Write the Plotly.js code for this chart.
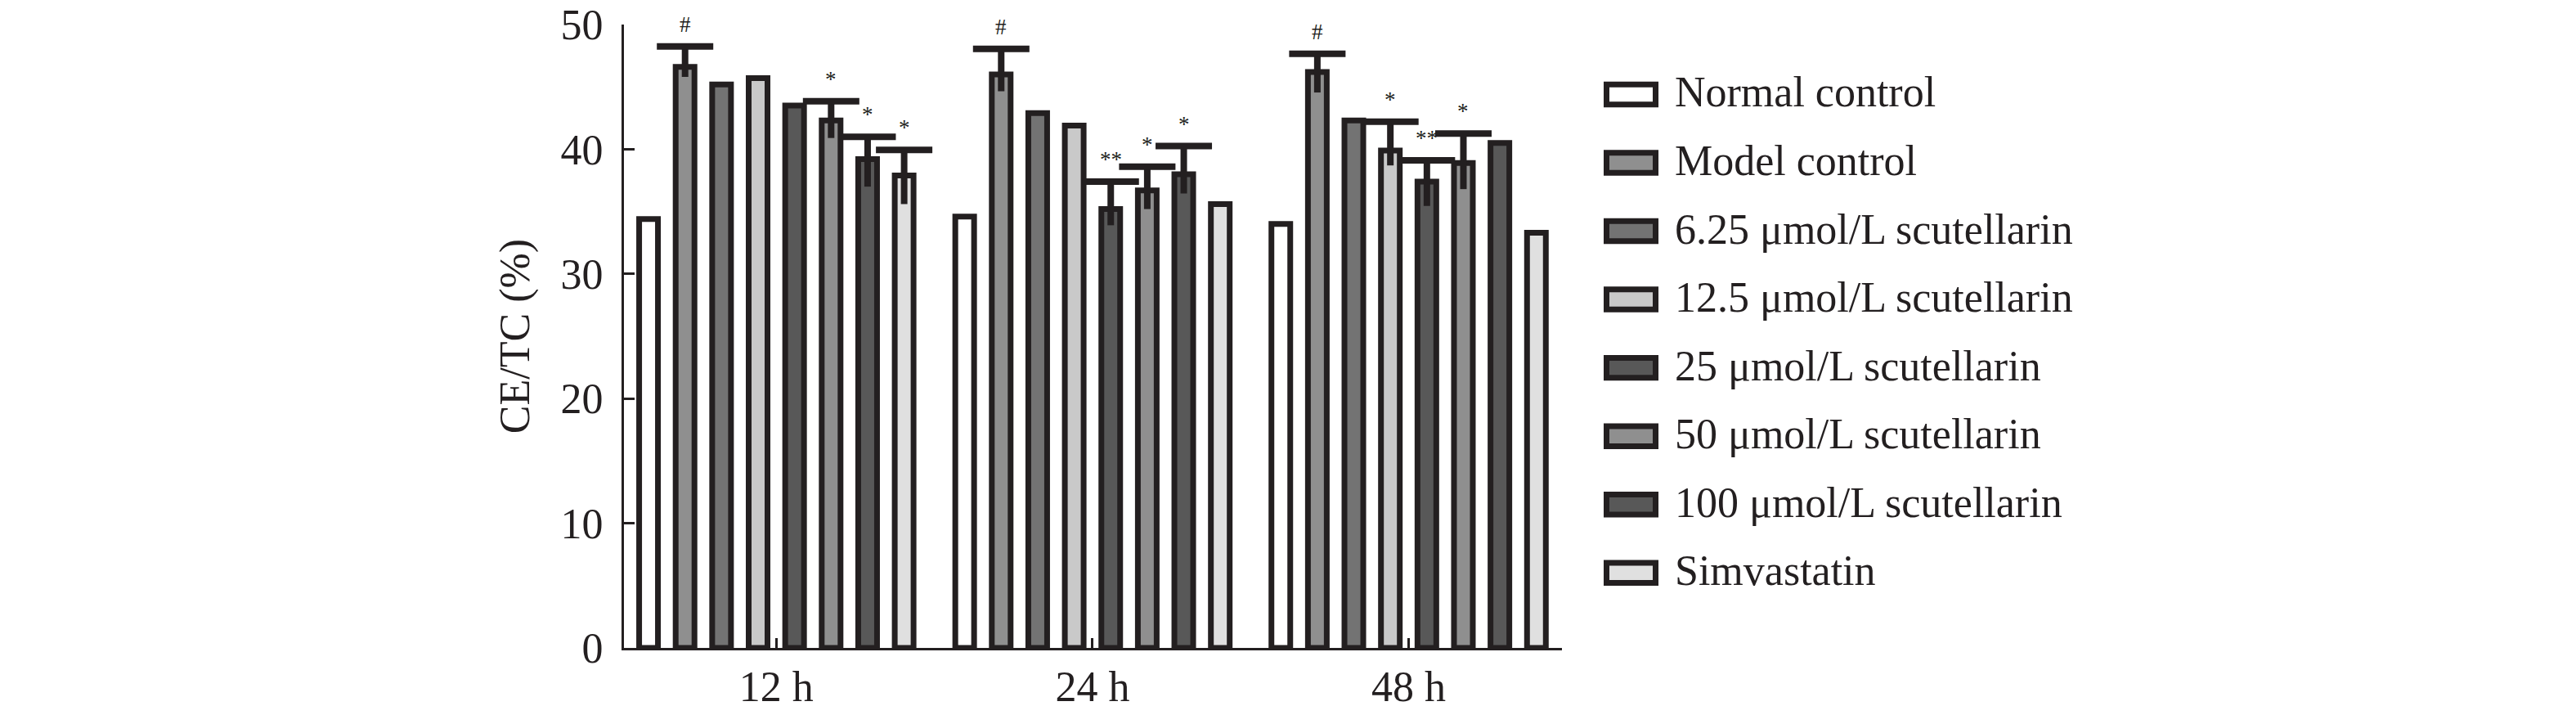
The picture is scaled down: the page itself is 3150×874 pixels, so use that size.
<!DOCTYPE html>
<html>
<head>
<meta charset="utf-8">
<script src="https://cdn.plot.ly/plotly-3.0.1.min.js"></script>
<style>
  html, body { margin: 0; padding: 0; background: #ffffff; }
  #chart { width: 3150px; height: 874px; }
</style>
</head>
<body>
<div id="chart"></div>
<script>
// ---- data ----
const categories = ['12 h', '24 h', '48 h'];
const seriesNames = ['Normal control', 'Model control', '6.25 \u03bcmol/L scutellarin', '12.5 \u03bcmol/L scutellarin',
  '25 \u03bcmol/L scutellarin', '50 \u03bcmol/L scutellarin', '100 \u03bcmol/L scutellarin', 'Simvastatin'];

const normalControl = [34.4, 34.6, 34.0];
const modelControl  = [46.6, 46.0, 46.2];
const scut625       = [45.2, 42.9, 42.3];
const scut125       = [45.7, 41.9, 39.9];
const scut25        = [43.5, 35.2, 37.4];
const scut50        = [42.3, 36.7, 38.9];
const scut100       = [39.2, 38.0, 40.5];
const simvastatin   = [37.9, 35.6, 33.3];

// upper / lower error (null = no error bar drawn)
const errPlus = [
  [null, null, null],
  [1.65, 2.05, 1.45],
  [null, null, null],
  [null, null, 2.3],
  [null, 2.2, 1.7],
  [1.55, 1.9, 2.35],
  [1.8, 2.25, null],
  [2.05, null, null]
];
const errMinus = [
  [null, null, null],
  [0.8, 1.35, 1.65],
  [null, null, null],
  [null, null, 1.2],
  [null, 1.3, 1.95],
  [1.4, 1.5, 2.1],
  [2.2, 1.55, null],
  [2.3, null, null]
];
// significance marks
const sigMarks = [
  ['', '', ''],
  ['#', '#', '#'],
  ['', '', ''],
  ['', '', '*'],
  ['', '**', '**'],
  ['*', '*', '*'],
  ['*', '*', ''],
  ['*', '', '']
];
const yTickVals = [0, 10, 20, 30, 40, 50];

// ---- styling ----
const seriesValues = [normalControl, modelControl, scut625, scut125, scut25, scut50, scut100, simvastatin];
const fills = ['#ffffff', '#8f8f8f', '#737373', '#c9c9c9', '#585858', '#8f8f8f', '#585858', '#e0e0e0'];
const ink = '#231f20';
const FONT = 'Liberation Serif, Times New Roman, serif';
const BARGAP = 0.076;

const W = 3150, H = 874;
const M = { l: 763, r: 1240, t: 30, b: 81.5 };
const plotW = W - M.l - M.r, plotH = H - M.t - M.b;
const pxToPaperX = px => (px - M.l) / plotW;
const pxToPaperY = py => (H - M.b - py) / plotH;

const traces = [];
const toNum = v => (v === null ? NaN : v);

seriesValues.forEach((vals, k) => {
  traces.push({
    type: 'bar', name: seriesNames[k], x: categories, y: vals,
    offsetgroup: 'g' + k, showlegend: false,
    marker: { color: fills[k], line: { color: ink, width: 7 } },
    hoverinfo: 'skip'
  });
});
// error stems (no caps)
seriesValues.forEach((vals, k) => {
  traces.push({
    type: 'bar', x: categories, y: vals, showlegend: false,
    offsetgroup: 'g' + k,
    marker: { color: 'rgba(0,0,0,0)', line: { width: 0 } },
    error_y: { type: 'data', symmetric: false, array: errPlus[k].map(toNum), arrayminus: errMinus[k].map(toNum),
               color: ink, thickness: 8, width: 0 },
    hoverinfo: 'skip'
  });
});
// error caps at the top
seriesValues.forEach((vals, k) => {
  traces.push({
    type: 'bar', x: categories, showlegend: false,
    y: vals.map((v, i) => errPlus[k][i] === null ? null : v + errPlus[k][i]),
    offsetgroup: 'g' + k,
    marker: { color: 'rgba(0,0,0,0)', line: { width: 0 } },
    error_y: { type: 'data', array: vals.map((v, i) => errPlus[k][i] === null ? NaN : 0),
               color: ink, thickness: 8, width: 34.5 },
    hoverinfo: 'skip'
  });
});

const nSeries = seriesValues.length;
const slot = (1 - BARGAP) / nSeries;
const annotations = [];
sigMarks.forEach((marks, k) => {
  marks.forEach((m, i) => {
    if (!m) return;
    annotations.push({
      xref: 'x', yref: 'y', x: i + (k - (nSeries - 1) / 2) * slot,
      y: seriesValues[k][i] + errPlus[k][i],
      text: m, showarrow: false, yanchor: 'middle', xanchor: 'center', yshift: 27,
      font: { family: FONT, size: 27, color: ink }
    });
  });
});

// legend (wide boxed swatches, drawn as layout shapes + text)
const LEG = { boxX0: 1964.5, boxX1: 2024.5, textX: 2046, rowY0: 115.5, pitch: 83.6, boxH: 24.5, textDy: -2.5 };
const shapes = [];
seriesNames.forEach((name, k) => {
  const cy = LEG.rowY0 + k * LEG.pitch;
  shapes.push({
    type: 'rect', xref: 'paper', yref: 'paper', layer: 'above',
    x0: pxToPaperX(LEG.boxX0), x1: pxToPaperX(LEG.boxX1),
    y0: pxToPaperY(cy + LEG.boxH / 2), y1: pxToPaperY(cy - LEG.boxH / 2),
    fillcolor: fills[k], line: { color: ink, width: 7 }
  });
  annotations.push({
    xref: 'paper', yref: 'paper', x: pxToPaperX(LEG.textX), y: pxToPaperY(cy + LEG.textDy),
    xanchor: 'left', yanchor: 'middle', showarrow: false, text: name,
    font: { family: FONT, size: 52, color: ink }
  });
});

const layout = {
  width: W, height: H,
  margin: { l: M.l, r: M.r, t: M.t, b: M.b, pad: 0 },
  paper_bgcolor: '#ffffff', plot_bgcolor: '#ffffff',
  font: { family: FONT, size: 52, color: ink },
  barmode: 'group', bargap: BARGAP, bargroupgap: 0.485,
  showlegend: false,
  xaxis: {
    type: 'category', range: [-0.482, 2.485],
    showline: true, linecolor: ink, linewidth: 3,
    ticks: 'inside', ticklen: 12, tickwidth: 3, tickcolor: ink,
    tickfont: { family: FONT, size: 52, color: ink },
    showgrid: false, zeroline: false, fixedrange: true
  },
  yaxis: {
    range: [0, 50], tickvals: yTickVals, ticktext: yTickVals.map(String),
    showline: true, linecolor: ink, linewidth: 3,
    ticks: 'inside', ticklen: 13, tickwidth: 3, tickcolor: ink, ticklabelstandoff: 12,
    tickfont: { family: FONT, size: 52, color: ink },
    showgrid: false, zeroline: false, fixedrange: true,
    title: { text: 'CE/TC (%)', font: { family: FONT, size: 52, color: ink } }
  },
  shapes: shapes,
  annotations: annotations
};

Plotly.newPlot('chart', traces, layout, { displayModeBar: false, staticPlot: true });
</script>
</body>
</html>
